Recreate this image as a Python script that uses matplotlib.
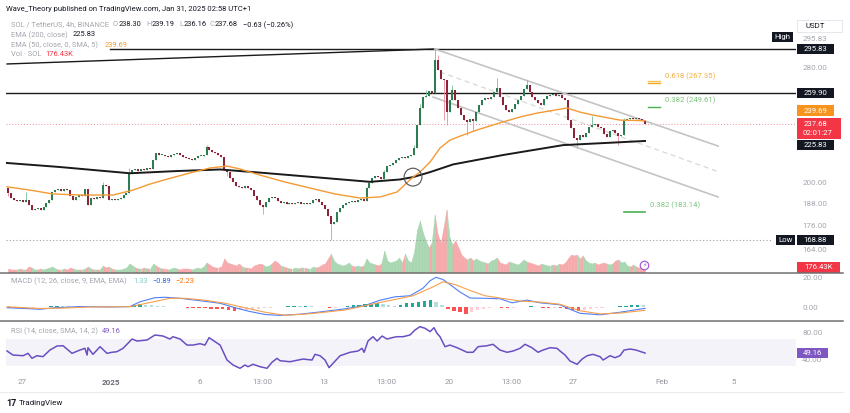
import numpy as np
import matplotlib
matplotlib.use("Agg")
import matplotlib.pyplot as plt
from matplotlib.patches import Rectangle
from matplotlib.lines import Line2D
from matplotlib.transforms import IdentityTransform
from matplotlib.ticker import NullLocator

plt.rcParams['font.family'] = ['Roboto', 'DejaVu Sans']

W, H = 850, 413

# ---- data: SOL/USDT 4h candles, day 0 = Dec 27 00:00 ----
first_day = -0.79
first_open = 197.0
closes = [
    193.8, 191.0, 189.9, 189.3, 189.9, 188.7,
    189.9, 187.1, 184.4, 185.0, 185.5, 184.4,
    186.0, 188.2, 189.9, 194.4, 195.5, 196.1,
    194.9, 196.1, 195.5, 192.1, 189.9, 191.6,
    192.7, 192.1, 196.1, 187.1, 191.0, 190.4,
    191.6, 191.0, 198.4, 197.8, 189.9, 190.4,
    189.9, 190.4, 191.0, 192.7, 193.8, 205.5,
    207.4, 208.0, 206.8, 208.0, 207.4, 208.6,
    208.0, 213.5, 217.9, 216.7, 216.7, 216.1,
    215.4, 216.7, 217.3, 217.9, 216.7, 215.4,
    214.8, 214.2, 213.5, 214.8, 216.1, 216.1,
    216.7, 221.8, 219.9, 218.6, 217.9, 216.7,
    215.4, 207.4, 206.2, 202.5, 200.1, 197.8,
    197.2, 196.7, 197.8, 196.7, 195.5, 192.1,
    189.9, 187.1, 186.0, 188.7, 191.0, 191.6,
    191.0, 189.3, 188.2, 188.7, 187.6, 188.2,
    187.6, 188.2, 188.7, 187.6, 188.2, 187.6,
    188.2, 189.9, 190.4, 188.7, 187.1, 185.0,
    181.2, 176.9, 178.0, 183.3, 185.5, 187.1,
    188.2, 188.7, 189.3, 188.7, 189.9, 190.4,
    189.3, 196.7, 199.5, 202.5, 203.7, 203.1,
    201.9, 206.2, 209.8, 210.4, 211.6, 213.5,
    214.8, 215.4, 214.8, 216.1, 216.7, 221.2,
    236.7, 248.8, 257.2, 257.8, 261.5, 259.6,
    286.4, 278.1, 270.8, 270.1, 245.8, 254.7,
    262.3, 254.7, 248.8, 243.7, 240.1, 238.8,
    240.8, 239.5, 245.8, 251.0, 254.7, 255.9,
    255.3, 256.6, 260.7, 264.0, 257.2, 251.0,
    247.3, 245.8, 248.0, 251.7, 254.7, 257.8,
    262.9, 266.1, 260.7, 257.2, 254.7, 252.8,
    251.0, 255.3, 257.8, 258.4, 259.0, 257.8,
    258.4, 256.4, 254.7, 240.1, 234.6, 228.0,
    226.4, 229.8, 228.6, 231.2, 235.2, 236.7,
    237.4, 235.2, 234.6, 230.5, 228.6, 232.5,
    233.2, 231.2, 229.2, 229.8, 240.1, 240.8,
    241.5, 240.8, 241.5, 240.8, 239.5, 237.68,
]
wick_hi = {6: 194.4, 32: 200.5, 41: 208.5, 67: 223.5, 121: 197.5, 127: 207.5,
           137: 223.0, 139: 252.0, 141: 262.5, 144: 295.83, 145: 290.6,
           150: 266.0, 165: 271.5, 175: 270.1, 197: 243.0, 208: 241.8}
wick_lo = {0: 192.0, 74: 204.0, 86: 182.0, 109: 168.88, 147: 240.0, 148: 236.7,
           155: 229.8, 157: 232.5, 192: 221.0, 206: 223.1}

volume_k = [
    140, 105, 105, 105, 140, 105,
    105, 210, 175, 105, 105, 140,
    105, 140, 175, 210, 140, 105,
    105, 140, 105, 175, 140, 105,
    105, 105, 140, 210, 140, 105,
    105, 105, 245, 175, 210, 140,
    105, 105, 105, 140, 175, 315,
    245, 175, 140, 140, 175, 140,
    140, 315, 245, 175, 140, 140,
    105, 140, 175, 140, 105, 140,
    140, 140, 105, 140, 175, 140,
    210, 350, 280, 210, 175, 175,
    210, 490, 350, 315, 280, 245,
    315, 210, 175, 175, 140, 245,
    280, 315, 280, 210, 245, 315,
    420, 350, 245, 210, 175, 140,
    140, 175, 140, 175, 175, 140,
    140, 210, 175, 210, 280, 315,
    490, 665, 420, 315, 280, 245,
    280, 350, 245, 210, 245, 210,
    245, 490, 350, 315, 280, 245,
    315, 770, 420, 350, 385, 420,
    525, 350, 665, 420, 350, 700,
    1470, 1820, 1400, 1120, 875, 1050,
    2030, 1330, 1050, 1575, 2205, 1225,
    980, 1120, 875, 630, 525, 455,
    525, 420, 490, 420, 385, 350,
    315, 420, 455, 525, 350, 315,
    280, 385, 350, 315, 280, 350,
    455, 385, 350, 315, 280, 245,
    315, 280, 245, 245, 280, 245,
    315, 280, 350, 490, 630, 595,
    630, 490, 595, 420, 350, 315,
    350, 280, 315, 350, 315, 280,
    315, 420, 455, 350, 385, 245,
    210, 280, 210, 175, 210, 176.43,
]

ema50_day = [-0.84, 0.45, 1.74, 3.26, 5.12, 6.24, 7.20, 8.16, 9.45, 10.57, 11.53, 12.26,
             13.39, 14.79, 16.20, 17.60, 19.01, 20.13, 21.09, 21.99, 22.38, 22.95, 23.51,
             24.07, 24.80, 25.76, 27.05, 28.01, 28.97, 29.98, 30.65, 31.38, 32.11, 33.63, 35.04]
ema50_val = [197.4, 195.5, 193.3, 192.7, 192.7, 195.5, 199.0, 201.9, 205.6, 208.6, 209.8, 208.0,
             204.3, 200.2, 196.7, 193.3, 191.0, 191.6, 194.4, 203.1, 206.1, 212.3, 221.2,
             226.4, 229.8, 233.9, 238.8, 242.3, 245.1, 247.3, 248.8, 245.8, 243.7, 240.1, 239.69]
ema200_day = [-0.96, 2.14, 6.07, 8.61, 11.14, 13.39, 16.20, 19.57, 21.26, 21.99, 22.95, 24.24,
              27.05, 30.43, 35.04]
ema200_val = [211.8, 209.2, 205.4, 206.7, 207.7, 205.8, 203.3, 200.3, 201.7, 203.1, 206.1, 210.8,
              216.7, 223.1, 225.83]

macd_day = [-0.84, 0.17, 1.01, 1.86, 3.26, 4.95, 6.07, 6.64, 7.48, 8.04, 8.89, 10.01, 11.14,
            11.98, 12.82, 13.67, 14.51, 15.64, 16.76, 18.17, 19.29, 20.13, 20.98, 21.82, 22.55,
            22.95, 23.28, 23.68, 24.07, 24.63, 25.20, 26.04, 26.88, 27.56, 28.40, 29.13, 30.26,
            30.82, 31.38, 32.51, 33.63, 35.04]
macd_val = [-0.5, -1.0, -1.5, -0.5, 0.3, 0.0, 0.3, 3.5, 6.2, 6.5, 5.8, 4.2, 2.5,
            -0.5, -3.0, -5.0, -5.6, -4.8, -3.3, -1.2, 1.0, 4.5, 6.8, 7.5, 12.5,
            17.5, 19.8, 18.3, 15.0, 10.0, 6.0, 5.8, 5.5, 2.8, 4.6, 2.8, 1.5,
            -1.5, -4.2, -5.2, -3.5, -0.89]
signal_day = [-0.84, 0.17, 1.01, 2.14, 3.82, 6.07, 7.20, 8.32, 9.17, 10.29, 11.42, 12.54, 13.67,
              14.79, 16.20, 18.17, 20.13, 21.99, 22.95, 23.68, 24.35, 25.20, 26.04, 26.88, 28.01,
              29.13, 30.26, 31.38, 32.51, 33.63, 35.04]
signal_val = [0.2, -0.5, -1.0, -0.8, 0.0, 0.2, 3.0, 5.8, 5.8, 4.5, 2.5, -0.5, -3.5,
              -5.5, -4.5, -2.0, 3.0, 7.5, 12.5, 16.8, 15.0, 11.0, 7.5, 6.0, 4.0,
              3.3, 1.8, -2.5, -4.6, -4.0, -2.23]
# histogram, one value per two candles
macd_hist = [
    -0.6, -0.8, -0.9, -0.7, -0.5, -0.3, 0.2, 0.6, 0.9, 0.8, 0.5, 0.3,
    0.2, 0.1, -0.2, -0.3, -0.1, 0.1, -0.1, 0.2, 0.4, 1.4, 1.9, 1.6,
    1.3, 0.8, 0.5, 0.3, 0.1, -0.2, -0.4, -0.6, -0.7, -0.9, -1.1, -1.3,
    -1.6, -2.0, -2.4, -2.2, -1.8, -1.5, -1.2, -0.8, -0.5, -0.2, 0.2, 0.5,
    0.6, 0.5, 0.6, 0.4, 0.2, -0.3, -0.6, -0.4, 0.3, 0.8, 1.2, 1.5,
    1.8, 2.3, 2.5, 2.0, 1.4, 1.0, 1.6, 2.4, 3.0, 3.6, 4.2, 4.8,
    3.5, 1.2, -1.0, -2.5, -3.5, -4.5, -3.5, -2.2, -1.2, -0.6, -0.3, -0.6,
    -0.9, -0.7, -0.3, 0.3, 0.5, 0.2, -0.4, -0.7, -0.5, -0.8, -1.5, -2.2,
    -2.8, -2.0, -1.2, -0.8, -0.5, -0.3, 0.2, 0.5, 0.9, 1.2, 1.4, 1.33,
]

rsi_day = [-0.84, -0.51, 0.06, 0.34, 0.56, 0.84, 1.18, 1.57, 1.97, 2.31, 2.81, 3.26, 3.54, 3.66,
           3.71, 3.99, 4.39, 4.78, 5.06, 5.34, 5.68, 6.19, 6.47, 7.03, 7.48, 7.93, 8.32, 8.49,
           8.89, 9.28, 9.62, 10.01, 10.29, 10.52, 11.14, 11.53, 11.87, 12.26, 12.54, 12.71,
           12.99, 13.39, 13.78, 14.06, 14.34, 14.51, 15.07, 15.80, 16.31, 16.48, 16.76, 17.04,
           17.27, 17.49, 17.89, 18.45, 18.90, 19.12, 19.24, 19.46, 19.74, 19.97, 20.25, 20.53,
           20.81, 21.09, 21.43, 21.82, 22.10, 22.38, 22.67, 22.95, 23.17, 23.34, 23.51, 23.79,
           24.07, 24.47, 25.03, 25.37, 25.65, 26.15, 26.49, 26.88, 27.28, 27.62, 28.01, 28.29,
           28.68, 29.02, 29.30, 29.70, 30.09, 30.26, 30.54, 30.82, 31.22, 31.50, 31.78, 32.11,
           32.51, 32.68, 33.07, 33.35, 33.63, 33.86, 34.20, 34.53, 35.04]
rsi_val = [52.2, 46.3, 45.3, 48.8, 41.5, 45.3, 43.9, 53.6, 59.5, 59.9, 48.8, 53.6, 56.1, 46.3,
           57.0, 47.3, 58.5, 48.8, 50.3, 51.2, 56.1, 69.7, 66.8, 68.3, 75.6, 74.1, 69.7, 73.1,
           69.7, 60.9, 60.9, 62.9, 60.9, 71.7, 60.9, 39.0, 31.7, 26.9, 31.7, 29.2,
           32.7, 29.2, 26.9, 35.7, 41.5, 38.0, 36.5, 40.4, 39.0, 47.3, 45.3, 39.0,
           27.8, 34.1, 45.3, 50.3, 52.2, 56.1, 50.3, 66.8, 73.1, 66.8, 74.1, 69.7,
           71.7, 73.1, 73.1, 75.6, 82.9, 87.8, 85.4, 80.5, 86.3, 78.1, 73.1, 58.5,
           60.9, 57.0, 50.3, 50.3, 58.5, 59.9, 62.0, 53.6, 50.3, 52.2, 56.1, 62.0,
           57.0, 50.3, 53.6, 57.0, 56.1, 52.2, 46.3, 37.5, 32.7, 40.4, 45.3, 47.3,
           43.9, 39.0, 45.3, 42.4, 45.3, 53.6, 55.1, 53.6, 49.16]

tick_days = [0, 5, 10, 13.5, 17, 20.5, 24, 27.5, 31, 36, 40]
tick_labels = ['27', '2025', '6', '13:00', '13', '13:00', '20', '13:00', '27', 'Feb', '5']

# ---- colours ----
GREY = '#a3a6af'
DARK = '#131722'
BODY_G, BODY_R = '#2e7d50', '#8b2339'
WICK_G, WICK_R = '#74c095', '#ee8c9c'
VOL_G, VOL_R = '#a9d7b1', '#f6aaac'

fig = plt.figure(figsize=(W / 100, H / 100), dpi=100)
fig.patch.set_facecolor('white')


def px_axes(x0, y0, x1, y1):
    return fig.add_axes([x0 / W, 1 - y1 / H, (x1 - x0) / W, (y1 - y0) / H])


ax_p = px_axes(6, 18, 796, 272.5)
ax_m = px_axes(6, 272.5, 796, 321)
ax_r = px_axes(6, 321, 796, 373)
ax_v = ax_p.twinx()
xl = (-0.90, 43.53)
for a in (ax_p, ax_m, ax_r, ax_v):
    a.set_xlim(*xl)
    for s in a.spines.values():
        s.set_visible(False)
    a.tick_params(length=0)
    a.set_xticks([])
ax_p.set_zorder(2)
ax_v.set_zorder(1)
ax_p.patch.set_visible(False)

# ---- price panel ----
closes = np.array(closes)
n = len(closes)
days = first_day + np.arange(n) / 6
opens = np.r_[first_open, closes[:-1]]
up = closes >= opens
top = np.maximum(opens, closes)
bot = np.minimum(opens, closes)
hi = top.copy()
lo = bot.copy()
for k, v in wick_hi.items():
    hi[k] = v
for k, v in wick_lo.items():
    lo[k] = v

ax_p.set_yscale('log')
ax_p.set_ylim(153.5, 324)
ax_p.yaxis.set_minor_locator(NullLocator())
ax_p.yaxis.tick_right()
ax_p.set_yticks([164, 176, 188, 200, 280])
ax_p.set_yticklabels(['164.00', '176.00', '188.00', '200.00', '280.00'])
ax_p.tick_params(axis='y', colors=GREY, labelsize=5.8, pad=4.5)

ax_p.vlines(days, lo, hi, colors=np.where(up, WICK_G, WICK_R), lw=0.6, zorder=3)
ax_p.vlines(days, bot, np.maximum(top, bot * 1.003), colors=np.where(up, BODY_G, BODY_R),
            lw=1.45, zorder=4)

ax_p.plot(ema200_day, ema200_val, color='#1a1a1a', lw=1.4, zorder=5)
ax_p.plot(ema50_day, ema50_val, color='#f39a32', lw=1.0, zorder=5)
ax_p.scatter([21.99], [203.1], s=165, facecolors='none', edgecolors='#505050', lw=0.8, zorder=6)

# drawn levels and trend lines
ax_p.axhline(259.90, color='#1a1a1a', lw=1.0, zorder=2)
ax_p.plot([4.95, xl[1]], [295.83, 295.83], color='#1a1a1a', lw=1.0, zorder=2)
ax_p.plot([-0.84, 23.21], [283.1, 295.83], color='#1a1a1a', lw=1.0, zorder=2)
ax_p.plot([23.21, 39.15], [295.83, 222.5], color='#c4c4c4', lw=1.2, zorder=2)
ax_p.plot([23.12, 39.15], [256.9, 191.6], color='#c4c4c4', lw=1.2, zorder=2)
ax_p.plot([23.51, 39.15], [276.5, 206.4], color='#d8d8d8', lw=0.9, ls=(0, (4, 3)), zorder=2)
ax_p.axhline(237.68, color='#f28b96', lw=0.7, ls=(0, (1, 2)), zorder=1)
ax_p.plot([xl[0], 42.18], [168.88, 168.88], color='#9e9e9e', lw=0.8, ls=(0, (1, 2)), zorder=1)

# fib levels
ax_p.plot([35.21, 35.88], [267.35, 267.35], color='#f5a623', lw=1.0)
ax_p.plot([35.21, 35.88], [269.3, 269.3], color='#f7c35c', lw=1.0)
ax_p.plot([35.21, 35.88], [249.61, 249.61], color='#4caf50', lw=1.0)
ax_p.plot([33.86, 35.04], [183.14, 183.14], color='#4caf50', lw=1.2)
for xd, val, txt, col in [(35.88, 267.35, '0.618 (267.35)', '#f5b041'),
                          (35.88, 249.61, '0.382 (249.61)', '#7cc47f'),
                          (35.04, 183.14, '0.382 (183.14)', '#7cc47f')]:
    ax_p.annotate(txt, (xd, val), xytext=(3.5, 5), textcoords='offset points',
                  fontsize=5.6, color=col, va='center', ha='left')

# volume as area under price
vol = np.array(volume_k, dtype=float)
ax_v.set_ylim(0, 8908)
ax_v.set_yticks([])
for k in range(1, n):
    c = VOL_G if up[k] else VOL_R
    ax_v.fill_between(days[k - 1:k + 1], 0, vol[k - 1:k + 1], color=c, lw=0.3, ec=c)
ax_v.scatter([35.0], [250], s=38, facecolors='white', edgecolors='#9c4fd6', lw=0.8, zorder=5)
ax_v.text(35.0, 250, '⚡', fontsize=4.5, color='#9c4fd6', ha='center', va='center',
          family=['DejaVu Sans'], zorder=6)

# ---- MACD ----
ax_m.set_ylim(-9.33, 23)
hx = first_day + (2 * np.arange(len(macd_hist)) + 0.5) / 6
hcols = []
for j, v in enumerate(macd_hist):
    prev = macd_hist[j - 1] if j else 0
    if v >= 0:
        hcols.append('#26a69a' if v >= prev else '#b2dfdb')
    else:
        hcols.append('#ff5252' if v <= prev else '#ffcdd2')
ax_m.bar(hx, macd_hist, width=0.19, color=hcols, lw=0)
ax_m.plot(macd_day, macd_val, color='#4f7ef7', lw=0.8)
ax_m.plot(signal_day, signal_val, color='#f7a04b', lw=0.8)
ax_m.yaxis.tick_right()
ax_m.set_yticks([0, 20])
ax_m.set_yticklabels(['0.00', '20.00'])
ax_m.tick_params(axis='y', colors=GREY, labelsize=5.8, pad=4.5)

# ---- RSI ----
ax_r.set_ylim(20, 96.1)
ax_r.axhspan(30, 70, color='#7e57c2', alpha=0.07, lw=0)
ax_r.plot(rsi_day, rsi_val, color='#6a4fc2', lw=1.1)
ax_r.yaxis.tick_right()
ax_r.set_yticks([40, 80])
ax_r.set_yticklabels(['40.00', '80.00'])
ax_r.tick_params(axis='y', colors=GREY, labelsize=5.8, pad=4.5)
ax_r.set_xticks(tick_days)
ax_r.set_xticklabels(tick_labels)
ax_r.tick_params(axis='x', colors='#9598a1', labelsize=5.8, pad=4)
ax_r.get_xticklabels()[1].set_fontweight('bold')
ax_r.get_xticklabels()[1].set_color('#6a6d78')

# ---- pane separators ----
ID = IdentityTransform()
for yy, col, lw in [(272.5, '#707070', 1.1), (321, '#707070', 1.1), (392, '#ececec', 0.8)]:
    fig.add_artist(Line2D([0, 843], [H - yy, H - yy], transform=ID, color=col, lw=lw))


# ---- right-hand value tags ----
def tag(ax, value, text, fc, dy=0.0, x0=797, x1=834, h=10.5, tc='white', fs=5.6):
    y = ax.transData.transform((0, value))[1] + dy
    fig.add_artist(Rectangle((x0, y - h / 2), x1 - x0, h, transform=ID, fc=fc, ec='none'))
    fig.text((x0 + x1) / 2 / W, y / H, text, color=tc, fontsize=fs, ha='center', va='center')


y_hi = ax_p.transData.transform((0, 295.83))[1]
fig.text(815 / W, (y_hi + 10) / H, '295.83', color=GREY, fontsize=5.8, ha='center', va='center')
tag(ax_p, 295.83, 'High', '#131722', dy=12, x0=772, x1=793)
tag(ax_p, 295.83, '295.83', '#131722')
tag(ax_p, 259.90, '259.90', '#131722')
tag(ax_p, 239.69, '239.69', '#f7941d', dy=10)
y_c = ax_p.transData.transform((0, 237.68))[1]
fig.add_artist(Rectangle((797, y_c - 15), 44, 21, transform=ID, fc='#f23645', ec='none'))
fig.text(815 / W, (y_c - 0.5) / H, '237.68', color='white', fontsize=5.6, ha='center', va='center')
fig.text(818 / W, (y_c - 9.5) / H, '02:01:27', color='white', fontsize=5.6, ha='center', va='center')
tag(ax_p, 225.83, '225.83', '#131722', dy=-4)
tag(ax_p, 168.88, 'Low', '#131722', x0=776, x1=795)
tag(ax_p, 168.88, '168.88', '#131722')
tag(ax_v, 176.43, '176.43K', '#f23645', x1=840)
tag(ax_r, 49.16, '49.16', '#7e57c2', x1=828)

fig.add_artist(Rectangle((797, H - 32), 45, 12, transform=ID, fc='white', ec='#e0e3eb', lw=0.6))
fig.text(805 / W, 1 - 26 / H, 'USDT', color=DARK, fontsize=5.6, va='center')


# ---- legend texts ----
def row(y, parts, fs=5.4):
    for x, txt, col in parts:
        fig.text(x / W, 1 - y / H, txt, color=col, fontsize=fs, va='center', ha='left')


row(9.3, [(6, 'Wave_Theory published on TradingView.com, Jan 31, 2025 02:58 UTC+1', DARK)], fs=5.5)
row(25, [(11, 'SOL / TetherUS, 4h, BINANCE', GREY), (113, 'O', GREY), (119, '238.30', DARK),
         (146, 'H', GREY), (152, '239.19', DARK), (179, 'L', GREY), (184, '236.16', DARK),
         (209, 'C', GREY), (215, '237.68', DARK), (243, '\u22120.63 (\u22120.26%)', DARK)])
row(35, [(11, 'EMA (200, close)', GREY), (73, '225.83', DARK)])
row(45.5, [(11, 'EMA (50, close, 0, SMA, 5)', GREY), (105, '239.69', '#f39a32')])
row(55, [(11, 'Vol \u00b7 SOL', GREY), (45, '176.43K', '#f23645')])
row(281.7, [(11, 'MACD (12, 26, close, 9, EMA, EMA)', GREY), (133, '1.33', '#80cbc4'),
            (152, '\u22120.89', '#2962ff'), (175, '\u22122.23', '#ff6d00')])
row(331.3, [(11, 'RSI (14, close, SMA, 14, 2)', GREY), (102, '49.16', '#7e57c2')])

fig.text(6 / W, 1 - 403 / H, '17', color=DARK, fontsize=6.5, fontweight='bold', va='center')
fig.text(19 / W, 1 - 403 / H, 'TradingView', color=DARK, fontsize=5.8, va='center')

fig.savefig('out.png', dpi=100)
